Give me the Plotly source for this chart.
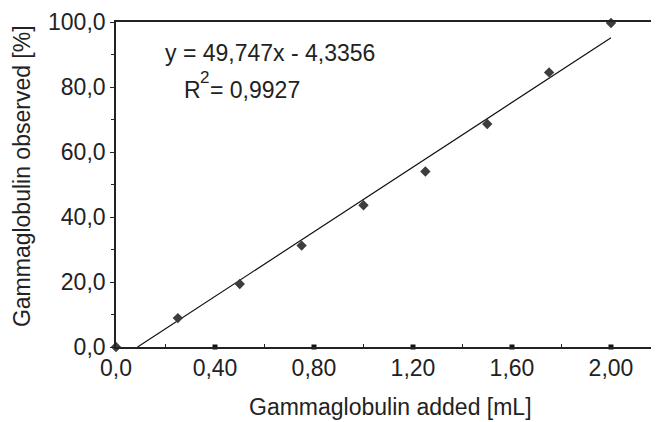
import plotly.graph_objects as go

# data
x_added = [0.0, 0.25, 0.5, 0.75, 1.0, 1.25, 1.5, 1.75, 2.0]
y_observed = [0.0, 8.9, 19.4, 31.2, 43.6, 54.0, 68.6, 84.5, 99.7]
slope = 49.747
intercept = -4.3356
r2_text = "0,9927"
x_tickvals = [0.0, 0.4, 0.8, 1.2, 1.6, 2.0]
x_ticktext = ["0,0", "0,40", "0,80", "1,20", "1,60", "2,00"]
x_minor = [0.2, 0.6, 1.0, 1.4, 1.8]
y_tickvals = [0, 20, 40, 60, 80, 100]
y_ticktext = ["0,0", "20,0", "40,0", "60,0", "80,0", "100,0"]
y_minor = [10, 30, 50, 70, 90]

FONT = "Liberation Sans, Arial, sans-serif"
INK = "#222222"
FS = 23

fit_x = [-intercept / slope, max(x_added)]
fit_y = [slope * v + intercept for v in fit_x]

fig = go.Figure()
fig.add_trace(go.Scatter(x=fit_x, y=fit_y, mode="lines",
                         line=dict(color="#111111", width=1.2),
                         cliponaxis=False, showlegend=False, hoverinfo="skip"))
# major x ticks drawn as small squares on the axis
fig.add_trace(go.Scatter(x=x_tickvals[1:], y=[0] * (len(x_tickvals) - 1), mode="markers",
                         marker=dict(symbol="square", size=5, color="#111111"),
                         cliponaxis=False, showlegend=False, hoverinfo="skip"))
fig.add_trace(go.Scatter(x=x_added, y=y_observed, mode="markers",
                         marker=dict(symbol="diamond", size=8, color="#3d3d3d"),
                         cliponaxis=False, showlegend=False))

def note(text, x, y, size=FS):
    return dict(text=text, xref="x", yref="y", x=x, y=y, xanchor="left",
                yanchor="middle", showarrow=False,
                font=dict(family=FONT, size=size, color=INK))

# the page body has an 8px default margin, so the figure is 8px smaller
fig.update_layout(
    width=651, height=414,
    margin=dict(l=108, r=0, t=14, b=75, autoexpand=False),
    paper_bgcolor="white", plot_bgcolor="white",
    font=dict(family=FONT, size=FS, color=INK),
    separators=",.",
    showlegend=False,
    xaxis=dict(range=[0, 2.194], showgrid=False, zeroline=False, automargin=False,
               showline=True, linecolor=INK, linewidth=1.6, mirror=True,
               tickmode="array", tickvals=x_tickvals, ticktext=x_ticktext,
               ticks="", tickfont=dict(family=FONT, size=FS, color=INK),
               minor=dict(tickvals=x_minor, ticks="inside", ticklen=3,
                          tickwidth=1.2, tickcolor=INK)),
    yaxis=dict(range=[0, 100], showgrid=False, zeroline=False, automargin=False,
               showline=True, linecolor=INK, linewidth=1.6,
               tickmode="array", tickvals=y_tickvals, ticktext=y_ticktext,
               ticks="outside", ticklen=4, tickwidth=1.4, tickcolor=INK,
               tickfont=dict(family=FONT, size=FS, color=INK),
               minor=dict(tickvals=y_minor, ticks="outside", ticklen=3,
                          tickwidth=1.2, tickcolor=INK)),
    annotations=[
        note("y = 49,747x - 4,3356", 0.19, 90.5),
        note("R", 0.266, 79.1),
        note("2", 0.333, 83.0, size=17),
        note("= " + r2_text, 0.37, 79.1),
        dict(text="Gammaglobulin observed [%]", xref="paper", yref="paper",
             x=-0.173, y=0.526, xanchor="center", yanchor="middle",
             textangle=-90, showarrow=False,
             font=dict(family=FONT, size=FS, color=INK)),
        dict(text="Gammaglobulin added [mL]", xref="paper", yref="paper",
             x=0.505, y=-0.185, xanchor="center", yanchor="middle",
             showarrow=False, font=dict(family=FONT, size=FS, color=INK)),
    ],
)

fig.write_html("out.html")
